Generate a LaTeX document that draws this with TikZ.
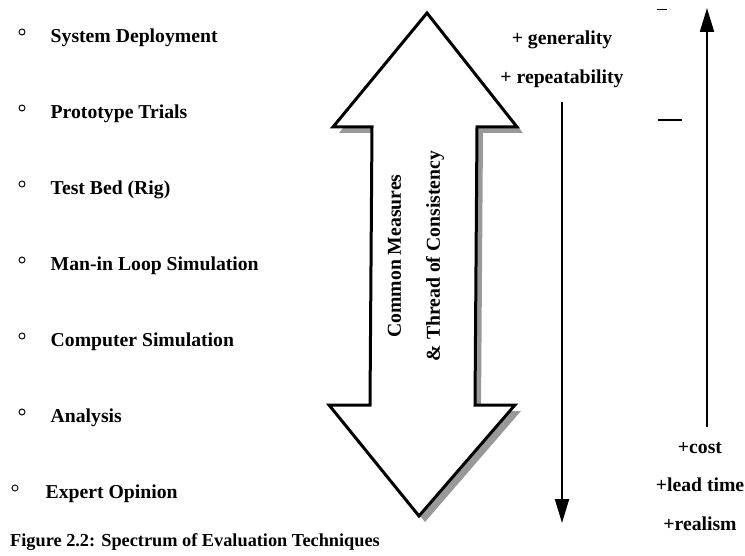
\documentclass[tikz,border=0pt]{standalone}
\usepackage{fontspec}
\setmainfont{Liberation Serif}
\usepackage{tikz}
\usetikzlibrary{arrows.meta,positioning}

\begin{document}
\begin{tikzpicture}[x=1pt,y=-1pt,node distance=76pt,
                    >={Triangle[length=24pt,width=14pt]},
                    font=\fontsize{19.7}{23}\selectfont\bfseries]

  \tikzstyle{every node}=[inner sep=0pt]
  \tikzstyle{bullet}=[circle,draw,line width=1pt,minimum size=6pt]
  \tikzstyle{item}=[text height=13pt,text depth=4pt,yshift=-6pt]
  \tikzstyle{remark}=[text height=13pt,text depth=4pt]
  \tikzstyle{trend}=[->,line width=2pt]

  \useasboundingbox (0,0) rectangle (745,556);

  \node[bullet] (B1) at (22,32) {};
  \node[bullet] (B2) [below of=B1] {};
  \node[bullet] (B3) [below of=B2] {};
  \node[bullet] (B4) [below of=B3] {};
  \node[bullet] (B5) [below of=B4] {};
  \node[bullet] (B6) [below of=B5] {};
  \node[bullet] (B7) [below of=B6, xshift=-7pt] {};

  \node[item, right=25pt of B1] (deploy)   {System Deployment};
  \node[item, right=25pt of B2] (trials)   {Prototype Trials};
  \node[item, right=25pt of B3] (testbed)  {Test Bed (Rig)};
  \node[item, right=25pt of B4] (manloop)  {Man-in Loop Simulation};
  \node[item, right=25pt of B5] (compsim)  {Computer Simulation};
  \node[item, right=25pt of B6] (analysis) {Analysis};
  \node[item, right=27pt of B7] (expert)   {Expert Opinion};

  \node[anchor=west, font=\fontsize{18.3}{22}\selectfont\bfseries]
    (caption) at (10,542) {Figure 2.2: Spectrum of Evaluation Techniques};

  % big double arrow, grey shadow first
  \fill[black!40, shift={(6,6)}]
    (427,13) -- (517,127) -- (477,127) -- (475,405) -- (515,405) -- (419,516)
    -- (329,405) -- (370,405) -- (372,127) -- (333,127) -- cycle;
  \draw[line width=3pt, fill=white]
    (427,13) -- (517,127) -- (477,127) -- (475,405) -- (515,405) -- (419,516)
    -- (329,405) -- (370,405) -- (372,127) -- (333,127) -- cycle;
  \node[rotate=90, align=center] (consistency) at (416,256)
    {Common Measures\\[16pt]\& Thread of Consistency};

  \coordinate (downtop) at (562,102);
  \coordinate (downend) at (562,523);
  \draw[trend] (downtop) -- (downend);
  \node[remark, above=14pt of downtop] (repeat)  {+ repeatability};
  \node[remark, above=22pt of repeat]  (general) {+ generality};

  \coordinate (uptail) at (707,427);
  \coordinate (uptip) at (707,8);
  \draw[trend] (uptail) -- (uptip);
  \node[remark, below=13pt of uptail, xshift=-7pt] (cost) {+cost};
  \node[remark, below=21pt of cost]    (lead)    {+lead time};
  \node[remark, below=21pt of lead]    (realism) {+realism};

  % stray marks
  \draw[line width=0.8pt] (657,9) -- (667,9);
  \draw[line width=1.5pt] (658,120) -- (682,120);

\end{tikzpicture}
\end{document}
